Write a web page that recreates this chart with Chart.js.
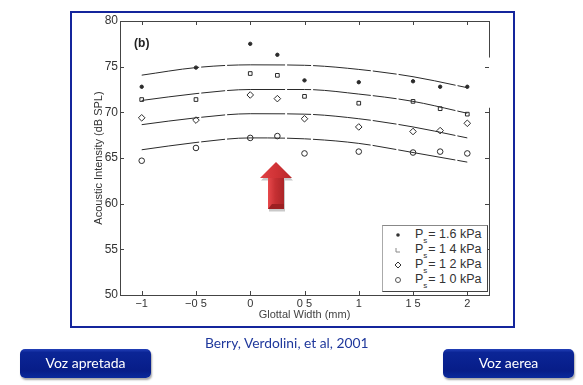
<!DOCTYPE html>
<html>
<head>
<meta charset="utf-8">
<script src="https://cdn.jsdelivr.net/npm/chart.js@4/dist/chart.umd.min.js"></script>
<style>
  html, body { margin: 0; padding: 0; background: #fff; }
  #page { position: relative; width: 583px; height: 385px; overflow: hidden; font-family: Lato, sans-serif; }
  #frame { position: absolute; left: 70px; top: 11px; width: 441px; height: 313px; border: 2px solid #14259c; }
  #chart { position: absolute; left: 0; top: 0; filter: blur(0.35px); }
  #caption { position: absolute; left: 205px; top: 334px; font-size: 13.8px; color: #1f389c; white-space: nowrap; }
  .btn { position: absolute; top: 349px; width: 131px; height: 29px; line-height: 27px; border-radius: 5px; text-align: center;
    color: #fff; font-size: 14px; background: linear-gradient(#2340b8 0%, #0b2596 12%, #071d88 75%, #0a2a9c 100%);
    box-shadow: 1px 2px 2px rgba(0,0,0,.35); }
  #legend { position: absolute; left: 382px; top: 225px; width: 104px; height: 65px; background: #fff;
    border: 1px solid #444; border-left-color: #aaa; border-top-color: #888; color: #333; font: 12.5px "Liberation Sans", sans-serif; }
  #legend div { position: absolute; left: 32px; white-space: nowrap; }
  #legend sub { font-size: 8px; vertical-align: -5px; line-height: 0; margin-right: 1px; }
  #legend svg { position: absolute; left: 10px; }
  #arrow { position: absolute; left: 256px; top: 160px; }
</style>
</head>
<body>
<div id="page">
  <canvas id="chart" width="583" height="385"></canvas>
  <div id="frame"></div>
  <div id="legend"></div>
  <svg id="arrow" width="42" height="54">
    <defs>
      <linearGradient id="shaft" x1="0" x2="1" y1="0" y2="0">
        <stop offset="0" stop-color="#e8494c"/><stop offset="0.45" stop-color="#c63033"/><stop offset="1" stop-color="#ab2528"/>
      </linearGradient>
      <linearGradient id="head" x1="0" x2="1" y1="0" y2="0">
        <stop offset="0" stop-color="#e04044"/><stop offset="0.5" stop-color="#d03336"/><stop offset="1" stop-color="#b8282a"/>
      </linearGradient>
    </defs>
    <path d="M20 2 L36 19 L28 19 L28 50 L12 50 L12 19 L4 19 Z" fill="#888" opacity=".45" transform="translate(1,1.5)"/>
    <path d="M20 2 L36 18 L28 18 L28 49 L12 49 L12 18 L4 18 Z" fill="url(#head)"/>
    <path d="M12 18 L28 18 L28 49 L12 49 Z" fill="url(#shaft)"/>
    <path d="M12 49 L16 44 L28 44 L28 49 Z" fill="#9c2022"/>
  </svg>
  <div id="caption">Berry, Verdolini, et al, 2001</div>
  <div class="btn" style="left:20px">Voz apretada</div>
  <div class="btn" style="left:443px">Voz aerea</div>
</div>
<script>
const pointWidths = [-1, -0.5, 0, 0.25, 0.5, 1, 1.5, 1.75, 2];
const points16 = [72.8, 74.9, 77.5, 76.3, 73.5, 73.3, 73.4, 72.8, 72.8];
const points14 = [71.4, 71.4, 74.25, 74.05, 71.75, 71.0, 71.2, 70.4, 69.8];
const points12 = [69.4, 69.15, 71.9, 71.5, 69.3, 68.4, 67.9, 68.0, 68.8];
const points10 = [64.7, 66.1, 67.2, 67.4, 65.5, 65.7, 65.6, 65.7, 65.5];

const curveWidths = [-1, -0.5, 0, 0.5, 1, 1.5, 2];
const curve16 = [74.07, 74.9, 75.2, 75.15, 74.7, 73.9, 72.7];
const curve14 = [71.3, 72.05, 72.5, 72.5, 72.0, 71.2, 69.9];
const curve12 = [68.65, 69.4, 69.85, 69.8, 69.3, 68.4, 67.2];
const curve10 = [65.9, 66.7, 67.2, 67.1, 66.6, 65.6, 64.55];

const legendLabels = ['1.6', '1 4', '1 2', '1 0'];
const xTickValues = [-1, -0.5, 0, 0.5, 1, 1.5, 2];
const xTickLabels = ['\u22121', '\u22120 5', '0', '0 5', '1', '1 5', '2'];
const yTickValues = [50, 55, 60, 65, 70, 75, 80];

const pairs = (xs, ys) => xs.map((x, i) => ({ x: x, y: ys[i] }));
const ink = '#2a2a2a';

const curve = (values) => ({
  type: 'line',
  data: pairs(curveWidths, values),
  borderColor: ink,
  borderWidth: 1,
  borderDash: [58, 2, 24, 2],
  pointRadius: 0,
  cubicInterpolationMode: 'monotone',
  fill: false,
});

const dots = (values, style, radius, fillColor) => ({
  type: 'scatter',
  data: pairs(pointWidths, values),
  pointStyle: style,
  pointRadius: radius,
  pointBorderWidth: 1,
  pointBorderColor: ink,
  pointBackgroundColor: fillColor,
  showLine: false,
});

// ticks point inwards on all four sides, like the scanned figure
const inwardTicks = {
  id: 'inwardTicks',
  afterDraw(chart) {
    const ctx = chart.ctx;
    const area = chart.chartArea;
    const yScale = chart.scales.y;
    ctx.save();
    ctx.strokeStyle = '#444';
    ctx.lineWidth = 1;
    ctx.beginPath();
    xTickValues.forEach(v => {
      const x = Math.round(chart.scales.x.getPixelForValue(v)) + 0.5;
      ctx.moveTo(x, area.top); ctx.lineTo(x, area.top + 4);
      ctx.moveTo(x, area.bottom); ctx.lineTo(x, area.bottom - 4);
    });
    yTickValues.forEach(v => {
      const y = Math.round(yScale.getPixelForValue(v)) + 0.5;
      ctx.moveTo(area.left, y); ctx.lineTo(area.left + 4, y);
      ctx.moveTo(area.right, y); ctx.lineTo(area.right - 4, y);
    });
    // top edge, and the right edge with the gap the scan left in it
    ctx.moveTo(area.left, area.top + 0.5); ctx.lineTo(area.right, area.top + 0.5);
    ctx.moveTo(area.right + 0.5, area.top); ctx.lineTo(area.right + 0.5, yScale.getPixelForValue(76));
    ctx.moveTo(area.right + 0.5, yScale.getPixelForValue(70.5)); ctx.lineTo(area.right + 0.5, area.bottom);
    ctx.stroke();
    ctx.fillStyle = '#222';
    ctx.font = 'bold 12px "Liberation Sans", sans-serif';
    ctx.fillText('(b)', chart.scales.x.getPixelForValue(-1.07), yScale.getPixelForValue(77.1));
    ctx.restore();
  },
};

new Chart(document.getElementById('chart'), {
  data: {
    datasets: [
      curve(curve16), curve(curve14), curve(curve12), curve(curve10),
      dots(points16, 'circle', 1.7, ink),
      dots(points14, 'rect', 2.6, '#fff'),
      dots(points12, 'rectRot', 3.3, '#fff'),
      dots(points10, 'circle', 2.8, '#fff'),
    ],
  },
  options: {
    responsive: false,
    animation: false,
    layout: { padding: { left: 92, right: 94, top: 21, bottom: 63 } },
    plugins: { legend: { display: false }, tooltip: { enabled: false } },
    scales: {
      x: {
        type: 'linear',
        min: -1.2,
        max: 2.2,
        afterFit: s => { s.height = 27; },
        afterBuildTicks: s => { s.ticks = xTickValues.map(v => ({ value: v })); },
        grid: { display: false, drawTicks: false },
        border: { display: true, color: '#444', width: 1 },
        ticks: {
          autoSkip: false,
          maxRotation: 0,
          padding: 2,
          color: '#333',
          font: { family: 'Liberation Sans', size: 11 },
          callback: v => xTickLabels[xTickValues.indexOf(v)],
        },
        title: {
          display: true,
          text: 'Glottal Width (mm)',
          color: '#444',
          padding: 0,
          font: { family: 'Liberation Sans', size: 11 },
        },
      },
      y: {
        min: 50,
        max: 80,
        afterFit: s => { s.width = 28; },
        grid: { display: false, drawTicks: false },
        border: { display: true, color: '#444', width: 1 },
        ticks: {
          stepSize: 5,
          padding: 2,
          color: '#333',
          font: { family: 'Liberation Sans', size: 12 },
        },
        title: {
          display: true,
          text: 'Acoustic Intensity (dB SPL)',
          color: '#333',
          padding: 0,
          font: { family: 'Liberation Sans', size: 11 },
        },
      },
    },
  },
  plugins: [inwardTicks],
});

// pressure key in the lower right corner
const legendMarks = [
  '<circle cx="5" cy="5" r="1.8" fill="#333"/>',
  '<path d="M3 3 V7 H7" fill="none" stroke="#888"/>',
  '<path d="M5 2 L8 5 L5 8 L2 5 Z" fill="#fff" stroke="#333"/>',
  '<circle cx="5" cy="5" r="2.5" fill="#fff" stroke="#555"/>',
];
document.getElementById('legend').innerHTML = legendLabels.map((label, i) => {
  const top = 1 + i * 15;
  return '<svg width="10" height="10" style="top:' + (top + 3) + 'px">' + legendMarks[i] + '</svg>' +
    '<div style="top:' + top + 'px">P<sub>s</sub>= ' + label + ' kPa</div>';
}).join('');
</script>
</body>
</html>
